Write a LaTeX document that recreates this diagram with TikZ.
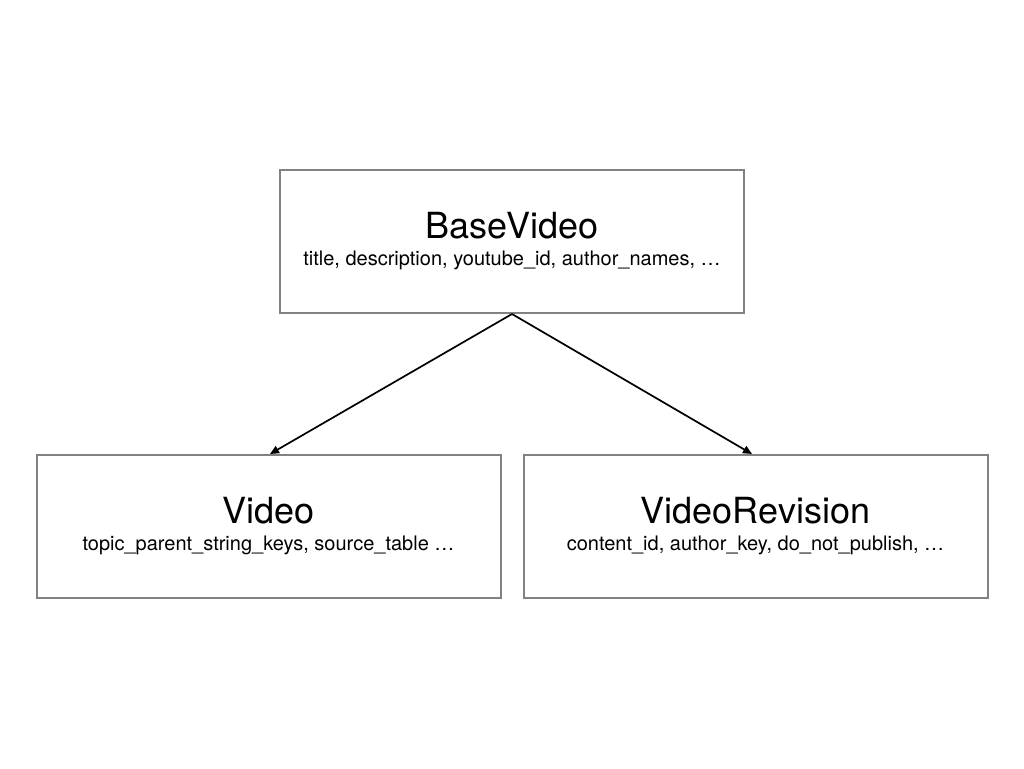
\documentclass[tikz,border=0pt]{standalone}
\usepackage{fontspec}
\setmainfont{TeX Gyre Heros}
\usetikzlibrary{arrows.meta,positioning}
\definecolor{boxgray}{RGB}{130,130,130}
\newcommand{\cls}[2]{{\fontsize{36}{27}\selectfont #1}\\{#2}}

\begin{document}
\begin{tikzpicture}[x=1pt,y=-1pt,
  cbox/.style={rectangle, draw=boxgray, line width=2pt,
               minimum width=464pt, minimum height=143pt,
               align=center, inner sep=0pt,
               font=\fontsize{20}{27}\selectfont},
  arr/.style={-{Triangle[length=9pt,width=8pt]}, line width=1.7pt},
]
  \useasboundingbox (0,0) rectangle (1024,768);
  \node[cbox] (base) at (512,241.5)
    {\cls{BaseVideo}{title, description, youtube\_id, author\_names, \dots}};
  \node[cbox] (video) at (268.5,526.5)
    {\cls{Video}{topic\_parent\_string\_keys, source\_table \dots}};
  \node[cbox] (rev) at (755.5,526.5)
    {\cls{VideoRevision}{content\_id, author\_key, do\_not\_publish, \dots}};
  \draw[arr] (base.south) -- ([xshift=1.5pt]video.north);
  \draw[arr] (base.south) -- ([xshift=-3.5pt]rev.north);
\end{tikzpicture}
\end{document}
